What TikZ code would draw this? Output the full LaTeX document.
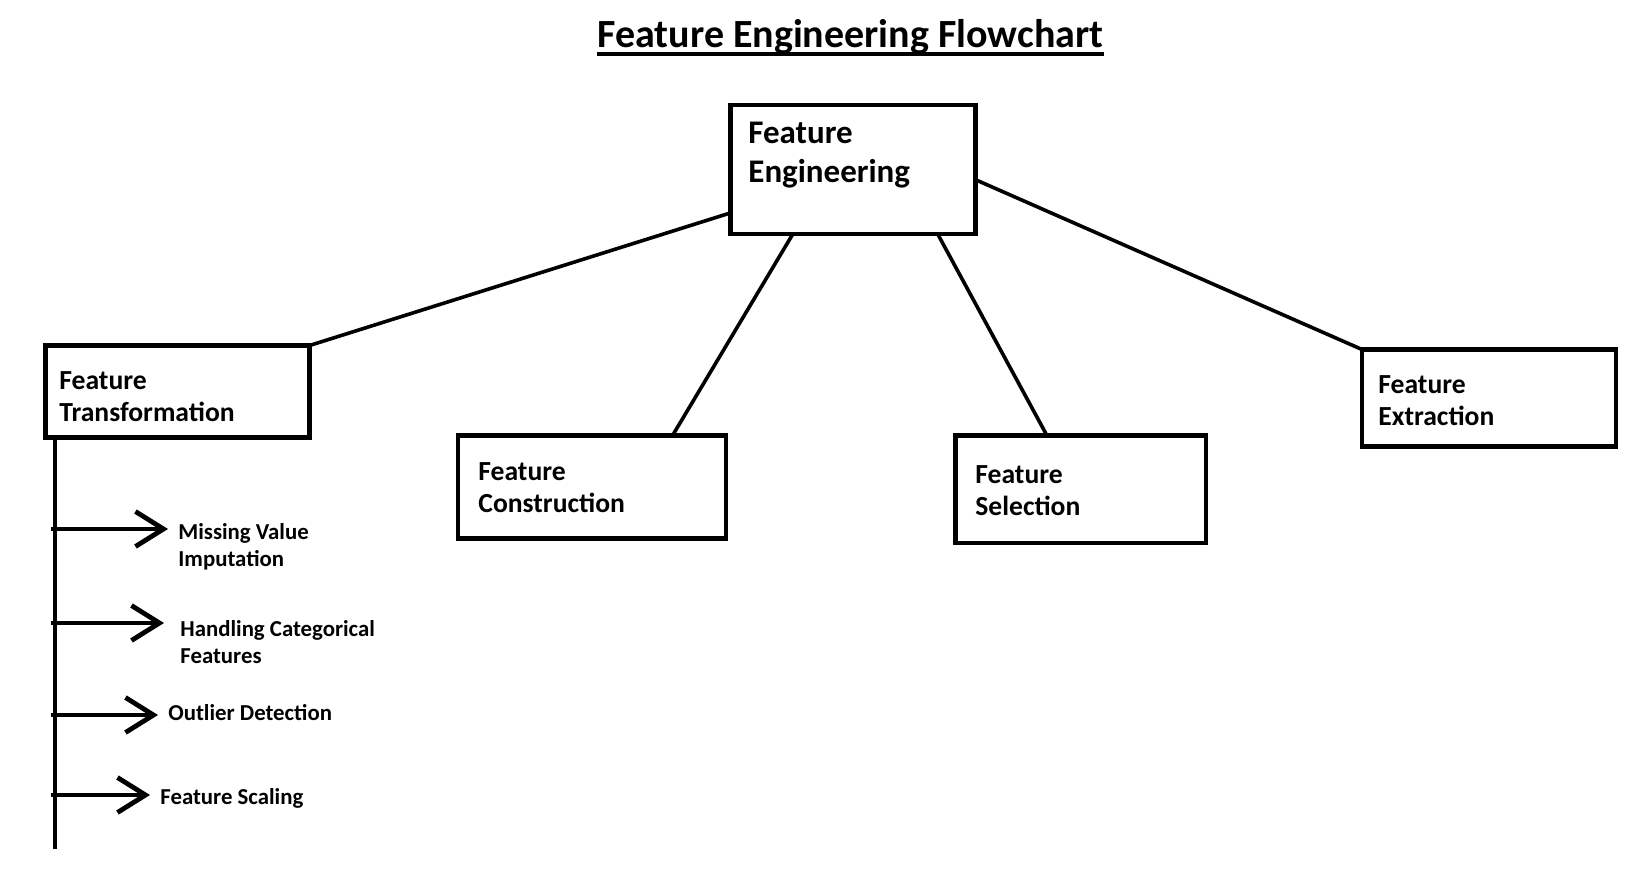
\documentclass[tikz,border=0pt]{standalone}
\usepackage{fontspec}
\setmainfont{Carlito}
\usetikzlibrary{arrows.meta, positioning, calc}

\begin{document}
\begin{tikzpicture}[
  x=0.5pt, y=-0.5pt,
  box/.style={draw, line width=2.4pt, outer sep=0pt, inner sep=0pt},
  boxtext/.style={anchor=base west, inner sep=0pt, align=left,
                  font=\fontsize{13.8}{16}\selectfont\bfseries},
  sub/.style={anchor=base west, inner xsep=5pt, inner ysep=0pt, align=left,
              font=\fontsize{11.4}{13.5}\selectfont\bfseries},
  link/.style={line width=1.8pt},
  stem/.style={line width=2.4pt},
  arr/.style={line width=2.4pt, -{Straight Barb[length=14pt, width=17.5pt]}},
]
\useasboundingbox (0,0) rectangle (1645,878);

% title
\node[anchor=base, inner sep=0pt, font=\fontsize{20}{24}\selectfont\bfseries]
  (title) at (850.5,47) {Feature Engineering Flowchart};
\draw[line width=2pt] ([yshift=-3.3pt]title.base west) -- ([yshift=-3.3pt]title.base east);

% boxes
\node[box, minimum width=122.75pt, minimum height=64.5pt] (fe) at (853,169.5) {};
\node[box, minimum width=132pt, minimum height=46pt] (ft) at (177.5,391.5) {};
\node[box, minimum width=134pt, minimum height=51.25pt] (fc) at (592,487) {};
\node[box, minimum width=125.25pt, minimum height=53.75pt] (fs) at (1080.75,489.25) {};
\node[box, minimum width=127pt, minimum height=48.5pt] (fx) at (1489,398) {};

% texts sit on the baseline of their last line
\node[boxtext, font=\fontsize{16.5}{19.5}\selectfont\bfseries] (fe-t) at (748,182) {Feature\\Engineering};
\node[boxtext] (ft-t) at (59,421) {Feature\\Transformation};
\node[boxtext] (fc-t) at (478,512) {Feature\\Construction};
\node[boxtext] (fs-t) at (975,515) {Feature\\Selection};
\node[boxtext] (fx-t) at (1378,425) {Feature\\Extraction};

% links
\draw[link] (ft.north east) -- ($(fe.north west)!.837!(fe.south west)$);
\draw[link] ($(fc.north west)!.80!(fc.north east)$) -- ($(fe.south west)!.255!(fe.south east)$);
\draw[link] ($(fs.north west)!.365!(fs.north east)$) -- ($(fe.south west)!.845!(fe.south east)$);
\draw[link] (fx.north west) -- ($(fe.north east)!.58!(fe.south east)$);

% transformation steps
\coordinate (vend) at (55,849);
\draw[stem] (ft.south west -| vend) -- (vend);

\coordinate (m1) at (51,529);
\coordinate (m2) at (51,623);
\coordinate (m3) at (51,715);
\coordinate (m4) at (51,795);

\node[sub] (mvi) at (168,566) {Missing Value\\Imputation};
\node[sub, inner xsep=8pt] (hcf) at (164,663) {Handling Categorical\\Features};
\node[sub] (od) at (158,720) {Outlier Detection};
\node[sub] (fsc) at (150,804) {Feature Scaling};

\draw[arr] (m1) -- (m1 -| mvi.west);
\draw[arr] (m2) -- (m2 -| hcf.west);
\draw[arr] (m3) -- (m3 -| od.west);
\draw[arr] (m4) -- (m4 -| fsc.west);
\end{tikzpicture}
\end{document}
